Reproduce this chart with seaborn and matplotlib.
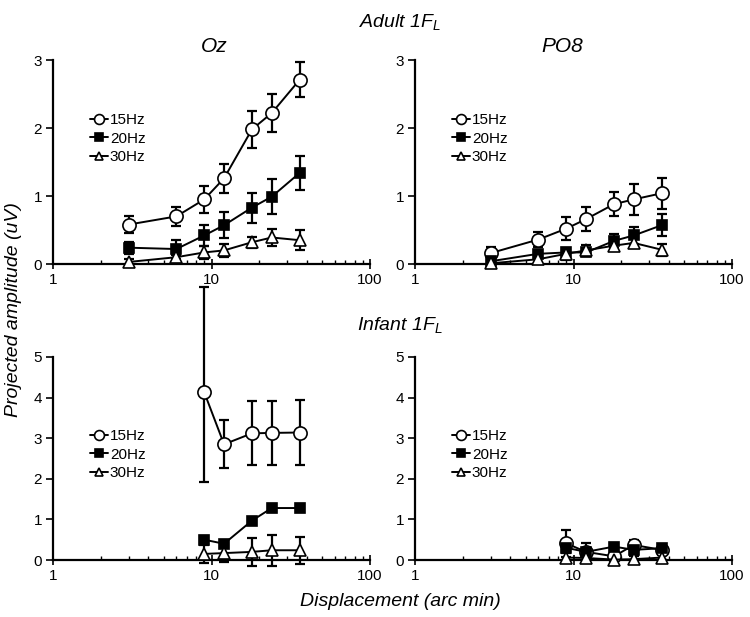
import matplotlib
matplotlib.use("Agg")
import matplotlib.pyplot as plt
import seaborn as sns
import pandas as pd
from matplotlib.ticker import LogLocator, NullFormatter, FixedLocator, FixedFormatter

# displacement (arc min)
disp_adult = [3, 6, 9, 12, 18, 24, 36]
disp_infant = [9, 12, 18, 24, 36]
freqs = ["15Hz", "20Hz", "30Hz"]

# Adult, Oz
adult_oz_15 = [0.58, 0.70, 0.95, 1.26, 1.98, 2.22, 2.71]
adult_oz_15_err = [0.13, 0.14, 0.20, 0.21, 0.27, 0.28, 0.26]
adult_oz_20 = [0.24, 0.22, 0.42, 0.57, 0.83, 0.99, 1.34]
adult_oz_20_err = [0.09, 0.14, 0.16, 0.19, 0.22, 0.26, 0.25]
adult_oz_30 = [0.03, 0.10, 0.17, 0.20, 0.32, 0.39, 0.35]
adult_oz_30_err = [0.04, 0.03, 0.09, 0.09, 0.08, 0.13, 0.15]

# Adult, PO8
adult_po8_15 = [0.16, 0.36, 0.52, 0.66, 0.88, 0.95, 1.04]
adult_po8_15_err = [0.09, 0.11, 0.17, 0.18, 0.18, 0.23, 0.23]
adult_po8_20 = [0.04, 0.15, 0.17, 0.17, 0.34, 0.42, 0.57]
adult_po8_20_err = [0.03, 0.04, 0.05, 0.05, 0.10, 0.13, 0.16]
adult_po8_30 = [0.01, 0.07, 0.15, 0.20, 0.27, 0.31, 0.21]
adult_po8_30_err = [0.02, 0.04, 0.09, 0.08, 0.07, 0.07, 0.09]

# Infant, Oz
infant_oz_15 = [4.13, 2.85, 3.12, 3.13, 3.14]
infant_oz_15_lo = [2.20, 0.59, 0.79, 0.79, 0.79]
infant_oz_15_hi = [2.60, 0.59, 0.79, 0.79, 0.79]
infant_oz_20 = [0.50, 0.40, 0.97, 1.28, 1.28]
infant_oz_20_err = [0.08, 0.08, 0.07, 0.10, 0.10]
infant_oz_30 = [0.15, 0.17, 0.20, 0.24, 0.24]
infant_oz_30_err = [0.22, 0.22, 0.35, 0.38, 0.33]

# Infant, PO8
infant_po8_15 = [0.41, 0.20, 0.09, 0.37, 0.25]
infant_po8_15_err = [0.34, 0.23, 0.10, 0.12, 0.08]
infant_po8_20 = [0.30, 0.20, 0.33, 0.25, 0.29]
infant_po8_20_err = [0.10, 0.10, 0.08, 0.10, 0.06]
infant_po8_30 = [0.06, 0.05, 0.01, 0.02, 0.06]
infant_po8_30_err = [0.12, 0.12, 0.08, 0.08, 0.06]

sns.set_theme(style="ticks")
plt.rcParams['font.family'] = ['Liberation Sans', 'DejaVu Sans']
plt.rcParams['mathtext.fontset'] = 'custom'
plt.rcParams['mathtext.it'] = 'Liberation Sans:italic'
plt.rcParams['mathtext.rm'] = 'Liberation Sans'
plt.rcParams['text.color'] = 'black'
plt.rcParams['xtick.color'] = 'black'
plt.rcParams['ytick.color'] = 'black'
plt.rcParams['axes.edgecolor'] = 'black'

marker_styles = {
    "15Hz": dict(marker="o", markerfacecolor="white", markersize=9.5),
    "20Hz": dict(marker="s", markerfacecolor="black", markersize=7.5),
    "30Hz": dict(marker="^", markerfacecolor="white", markersize=8.5),
}

fig = plt.figure(figsize=(7.5, 6.17), dpi=100)
W, H = 750, 617


def make_ax(x0, x1, y_top, y_bot):
    return fig.add_axes([x0 / W, 1 - y_bot / H, (x1 - x0) / W, (y_bot - y_top) / H])


def draw_panel(ax, disp, series, ymax, leg_y):
    for f, (vals, lo, hi) in zip(freqs, series):
        df = pd.DataFrame({"disp": disp, "amp": vals})
        ax.errorbar(disp, vals, yerr=[lo, hi], fmt="none", ecolor="black",
                    elinewidth=1.6, capsize=3.5, capthick=1.6, zorder=2, clip_on=False)
        sns.lineplot(data=df, x="disp", y="amp", ax=ax, color="black", linewidth=1.4,
                     markeredgecolor="black", markeredgewidth=1.2, label=f,
                     zorder=3, clip_on=False, **marker_styles[f])
    ax.set_xscale("log")
    ax.set_xlim(1, 100)
    ax.set_ylim(0, ymax)
    ax.set_yticks(range(0, ymax + 1))
    ax.xaxis.set_major_locator(FixedLocator([1, 10, 100]))
    ax.xaxis.set_major_formatter(FixedFormatter(["1", "10", "100"]))
    ax.xaxis.set_minor_locator(LogLocator(base=10, subs=range(2, 10)))
    ax.xaxis.set_minor_formatter(NullFormatter())
    ax.tick_params(axis="both", which="major", length=5, width=1.2, labelsize=11,
                   direction="out", pad=3)
    ax.tick_params(axis="x", which="minor", length=3, width=1.0, direction="in")
    ax.tick_params(axis="x", which="major", direction="inout", length=7)
    sns.despine(ax=ax)
    for s in ["left", "bottom"]:
        ax.spines[s].set_linewidth(1.6)
    ax.set_xlabel("")
    ax.set_ylabel("")
    ax.legend(loc="upper left", bbox_to_anchor=(0.117, leg_y), frameon=False,
              fontsize=11, handlelength=1.15, handletextpad=0.15, labelspacing=0.3,
              markerscale=0.75, borderpad=0, borderaxespad=0)


ax_tl = make_ax(53, 370, 60, 264)
ax_tr = make_ax(415, 732, 60, 264)
ax_bl = make_ax(53, 370, 357, 560)
ax_br = make_ax(415, 732, 357, 560)

draw_panel(ax_tl, disp_adult, [
    (adult_oz_15, adult_oz_15_err, adult_oz_15_err),
    (adult_oz_20, adult_oz_20_err, adult_oz_20_err),
    (adult_oz_30, adult_oz_30_err, adult_oz_30_err)], 3, 0.74)
draw_panel(ax_tr, disp_adult, [
    (adult_po8_15, adult_po8_15_err, adult_po8_15_err),
    (adult_po8_20, adult_po8_20_err, adult_po8_20_err),
    (adult_po8_30, adult_po8_30_err, adult_po8_30_err)], 3, 0.74)
draw_panel(ax_bl, disp_infant, [
    (infant_oz_15, infant_oz_15_lo, infant_oz_15_hi),
    (infant_oz_20, infant_oz_20_err, infant_oz_20_err),
    (infant_oz_30, infant_oz_30_err, infant_oz_30_err)], 5, 0.645)
draw_panel(ax_br, disp_infant, [
    (infant_po8_15, infant_po8_15_err, infant_po8_15_err),
    (infant_po8_20, infant_po8_20_err, infant_po8_20_err),
    (infant_po8_30, infant_po8_30_err, infant_po8_30_err)], 5, 0.645)

fig.text(400 / W, 1 - 22 / H, r"Adult 1F$_{\mathit{L}}$", ha="center", va="center",
         fontsize=14, style="italic")
fig.text(400 / W, 1 - 325 / H, r"Infant 1F$_{\mathit{L}}$", ha="center", va="center",
         fontsize=14, style="italic")
fig.text(214 / W, 1 - 46 / H, "Oz", ha="center", va="center", fontsize=15, style="italic")
fig.text(562 / W, 1 - 46 / H, "PO8", ha="center", va="center", fontsize=15, style="italic")
fig.text(14 / W, 1 - 310 / H, "Projected amplitude (uV)", ha="center", va="center",
         rotation=90, fontsize=14, style="italic")
fig.text(400 / W, 1 - 602 / H, "Displacement (arc min)", ha="center", va="center",
         fontsize=14, style="italic")

fig.savefig("out.png", dpi=100)
